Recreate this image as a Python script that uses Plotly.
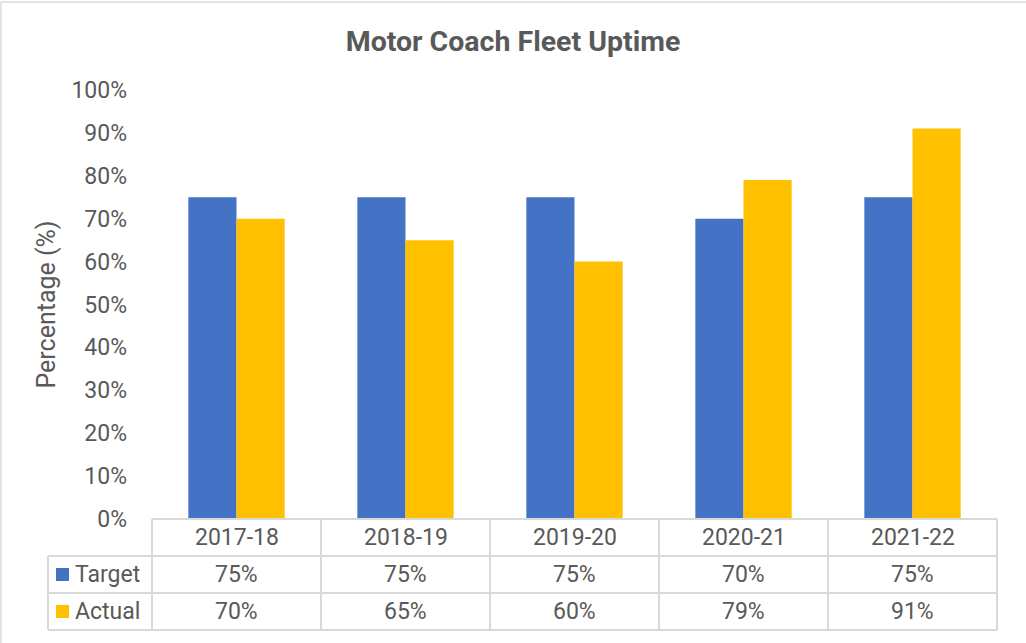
import plotly.graph_objects as go

categories = ["2017-18", "2018-19", "2019-20", "2020-21", "2021-22"]
target = [75, 75, 75, 70, 75]
actual = [70, 65, 60, 79, 91]
series_names = ["Target", "Actual"]
colors = ["#4472C4", "#FFC000"]
y_ticks = list(range(0, 101, 10))

W, H = 1026, 643
def px(x):
    return x / W
def py(y):
    return 1 - y / H

x0, x1 = 152, 997
y_top, y_zero = 90, 519
row_h = 37
grid = "#D9D9D9"
txt = "#595959"
font = "Roboto"
fs = 23

fig = go.Figure()
for name, vals, c in zip(series_names, [target, actual], colors):
    fig.add_trace(go.Bar(x=categories, y=vals, name=name, marker=dict(color=c, line=dict(width=0)),
                         showlegend=False, hoverinfo="x+y"))

shapes = []
annotations = []
# outer border
shapes.append(dict(type="line", xref="paper", yref="paper", x0=px(1), x1=px(1), y0=0, y1=py(2),
                   line=dict(color=grid, width=1.5)))
shapes.append(dict(type="line", xref="paper", yref="paper", x0=px(1), x1=1, y0=py(2), y1=py(2),
                   line=dict(color=grid, width=1.5)))

# table lines
rows_y = [y_zero, y_zero + row_h, y_zero + 2 * row_h, y_zero + 3 * row_h]
for i, yy in enumerate(rows_y):
    xs = x0 if i == 0 else 48
    shapes.append(dict(type="line", xref="paper", yref="paper", x0=px(xs), x1=px(x1),
                       y0=py(yy), y1=py(yy), line=dict(color=grid, width=2)))
cw = (x1 - x0) / len(categories)
for j in range(len(categories) + 1):
    xx = x0 + j * cw
    shapes.append(dict(type="line", xref="paper", yref="paper", x0=px(xx), x1=px(xx),
                       y0=py(y_zero), y1=py(rows_y[-1]), line=dict(color=grid, width=2)))
shapes.append(dict(type="line", xref="paper", yref="paper", x0=px(48), x1=px(48),
                   y0=py(rows_y[1]), y1=py(rows_y[-1]), line=dict(color=grid, width=2)))

# category labels and values
for j, cat in enumerate(categories):
    annotations.append(dict(x=cat, xref="x", y=py(y_zero + row_h / 2), yref="paper", text=cat,
                            xanchor="center", yanchor="middle", showarrow=False,
                            font=dict(family=font, size=fs, color=txt)))
    for r, vals in enumerate([target, actual]):
        annotations.append(dict(x=cat, xref="x", y=py(y_zero + row_h * (r + 1.5)), yref="paper",
                                text=f"{vals[j]}%", xanchor="center", yanchor="middle",
                                showarrow=False, font=dict(family=font, size=fs, color=txt)))

# legend keys in table
for r, (name, c) in enumerate(zip(series_names, colors)):
    yc = y_zero + row_h * (r + 1.5)
    shapes.append(dict(type="rect", xref="paper", yref="paper", x0=px(56), x1=px(69),
                       y0=py(yc - 6.5), y1=py(yc + 6.5), fillcolor=c, line=dict(width=0)))
    annotations.append(dict(x=px(73), xref="paper", y=py(yc), yref="paper", text=name,
                            xanchor="left", yanchor="middle", showarrow=False,
                            font=dict(family=font, size=fs, color=txt)))

fig.update_layout(
    width=W, height=H, autosize=False,
    margin=dict(l=0, r=0, t=0, b=0, pad=0, autoexpand=False),
    paper_bgcolor="white", plot_bgcolor="white",
    barmode="group", bargap=0.43, bargroupgap=0,
    title=dict(text="<b>Motor Coach Fleet Uptime</b>", x=0.5, xanchor="center",
               y=py(41), yanchor="middle", automargin=False,
               font=dict(family=font, size=28.5, color=txt)),
    xaxis=dict(domain=[px(x0), px(x1)], showticklabels=False, showline=False, showgrid=False,
               zeroline=False, ticks="", automargin=False, fixedrange=True),
    yaxis=dict(domain=[py(y_zero), py(y_top)], range=[0, 100], tickvals=y_ticks,
               ticktext=[f"{v}%" for v in y_ticks], showgrid=False, zeroline=False,
               showline=False, ticks="", ticklabelstandoff=24, automargin=False, fixedrange=True,
               tickfont=dict(family=font, size=fs, color=txt),
               title=dict(text="Percentage (%)", font=dict(family=font, size=25, color=txt),
                          standoff=8)),
    shapes=shapes, annotations=annotations,
)

fig.write_html("out.html", config={"displayModeBar": False, "responsive": False},
               post_script="document.body.style.margin='0';document.body.style.overflow='hidden';")
